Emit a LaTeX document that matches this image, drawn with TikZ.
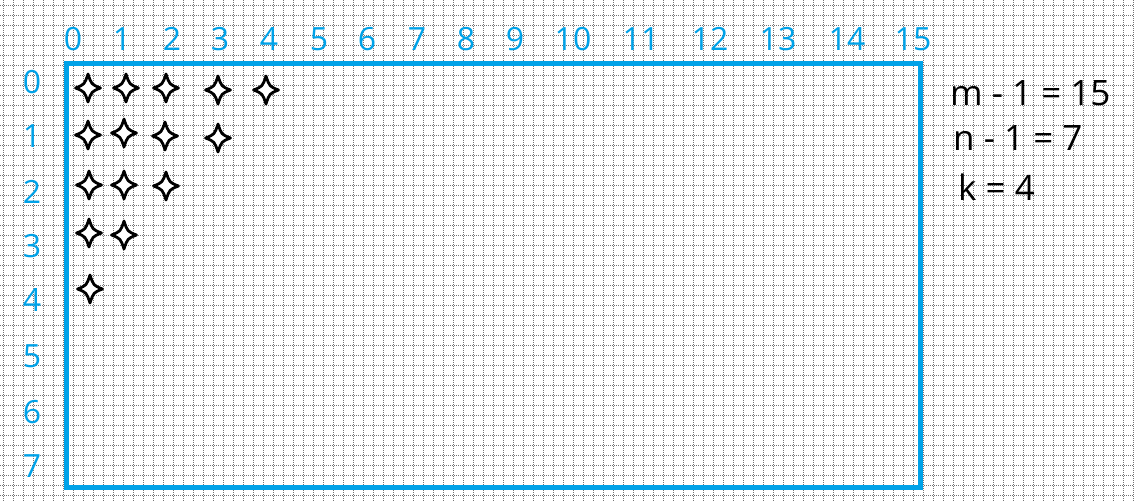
\documentclass[tikz,border=0pt]{standalone}
\usepackage{fontspec}
\setmainfont{Open Sans}
\definecolor{pblue}{RGB}{0,162,232}
\tikzset{
  gridline/.style={draw=black!55, line width=1pt, dash pattern=on 1pt off 1pt},
  collabel/.style={text=pblue, font=\fontsize{32}{38}\selectfont, anchor=base, inner sep=0pt},
  rowlabel/.style={text=pblue, font=\fontsize{32}{38}\selectfont, anchor=base, inner sep=0pt},
  eqlabel/.style={text=black, font=\fontsize{35}{40}\selectfont, anchor=base west, inner sep=0pt},
  sparkle/.pic={
    \draw[line width=2.8pt, fill=white, line join=round]
      (12.5,0) .. controls (3.5,-3.5) .. (0,-14)
      .. controls (-3.5,-3.5) .. (-12.5,0)
      .. controls (-3.5,3.5) .. (0,14)
      .. controls (3.5,3.5) .. cycle;
  }
}
\begin{document}
\begin{tikzpicture}[x=1pt,y=-1pt]
\fill[white] (0,0) rectangle (1134,501);
\useasboundingbox (0,0) rectangle (1134,501);
\foreach \x in {3,13,...,1133} \draw[gridline] (\x,0) -- (\x,501);
\foreach \y in {5,15,...,495} \draw[gridline] (0,\y) -- (1134,\y);
\draw[pblue, line width=5pt] (66,63) rectangle (920,487);
\foreach \i/\x in {0/73,1/122,2/172,3/220,4/269,5/319,6/367,7/417,8/466,9/515,10/573,11/641,12/710,13/778,14/847,15/913}
  \node[collabel] (c\i) at (\x,50) {\i};
\foreach \i/\y in {0/93,1/147,2/203,3/257,4/311,5/367,6/423,7/477}
  \node[rowlabel] (r\i) at (32,\y) {\i};
\foreach \x/\y in {88/88,126/88,166/88,218/90,266/90,
                   88/135,124/133,165/136,218/138,
                   89/185,124/185,166/186,
                   89/233,124/235,
                   90/289}
  \pic at (\x,\y) {sparkle};
\node[eqlabel] (eqm) at (950,105) {m - 1 = 15};
\node[eqlabel] (eqn) at (953,150) {n - 1 = 7};
\node[eqlabel] (eqk) at (958,200) {k = 4};
\end{tikzpicture}
\end{document}
